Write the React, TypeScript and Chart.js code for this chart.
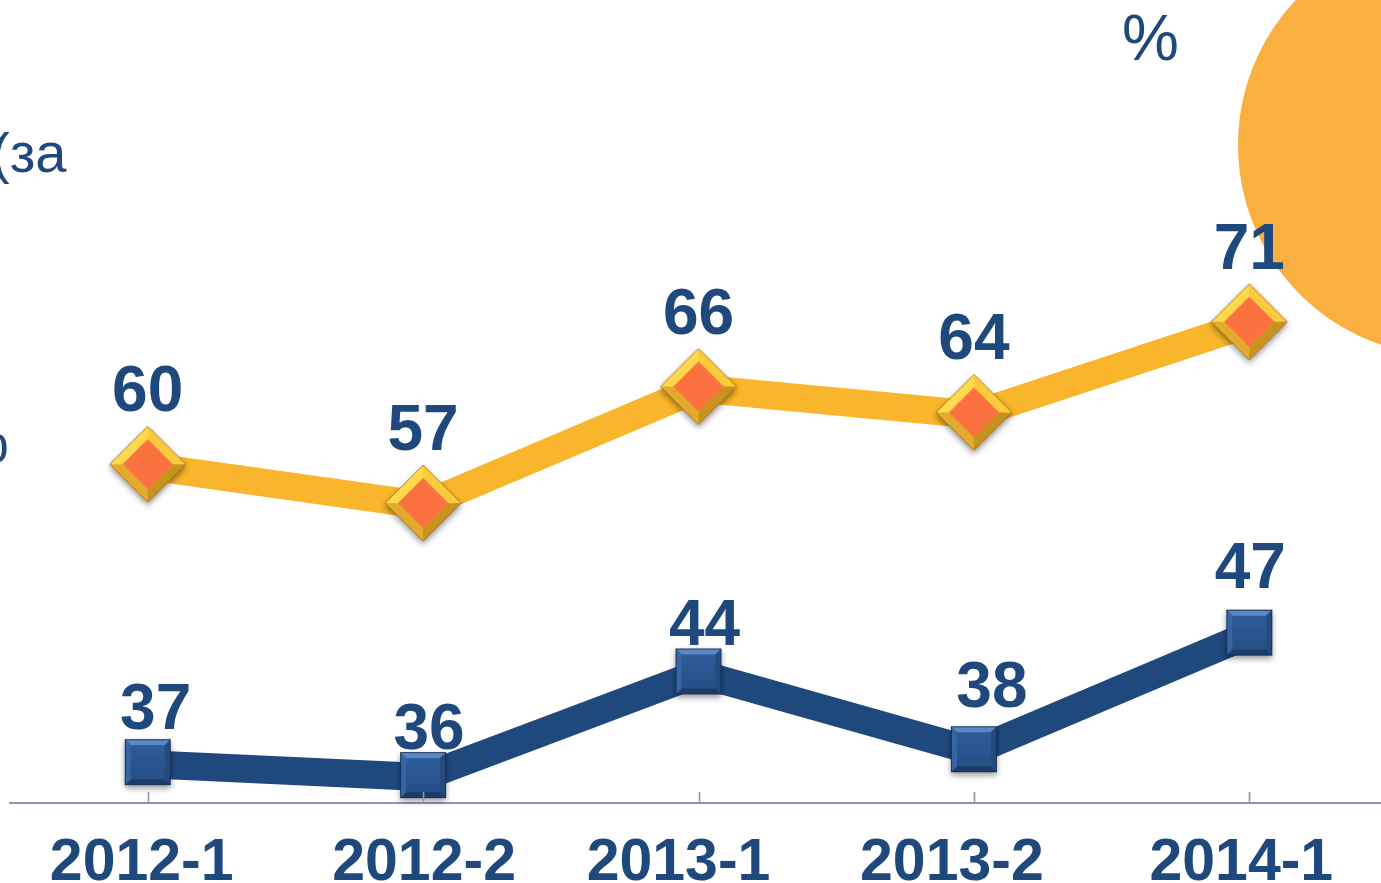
import React, { useEffect, useRef } from "react";
import { Chart, registerables } from "chart.js";

Chart.register(...registerables);

const categories = ["2012-1", "2012-2", "2013-1", "2013-2", "2014-1"];
const orangeValues = [60, 57, 66, 64, 71];
const blueValues = [37, 36, 44, 38, 47];

const TEXT_BLUE = "#1F497D";
const LINE_ORANGE = "#F9B52B";
const LINE_BLUE = "#1F497D";
const AXIS_COLOR = "#8C97AE";
const FONT = "'Liberation Sans', Arial, sans-serif";

// label nudges (style only): [dx, dy above point]
const orangeLabelOffsets = [[0, 55], [0, 55], [0, 55], [0, 55], [0, 55]];
const blueLabelOffsets = [[8, 35], [6, 28], [6, 28], [18, 44], [1, 47]];
// category label horizontal nudges (style only)
const categoryLabelNudges = [-6, 1, -20, -22, -8];

function makeDiamond(): HTMLCanvasElement {
  const s = 94;
  const c = document.createElement("canvas");
  c.width = s;
  c.height = s;
  const g = c.getContext("2d")!;
  const cx = s / 2, cy = s / 2 - 2;
  const R = 38, r = 25;
  g.save();
  g.shadowColor = "rgba(0,0,0,0.45)";
  g.shadowBlur = 6;
  g.shadowOffsetY = 3;
  g.beginPath();
  g.moveTo(cx, cy - R); g.lineTo(cx + R, cy); g.lineTo(cx, cy + R); g.lineTo(cx - R, cy); g.closePath();
  g.fillStyle = "#E6AE2C";
  g.fill();
  g.restore();
  const facet = (pts: number[][], col: string) => {
    g.beginPath();
    g.moveTo(pts[0][0], pts[0][1]);
    for (let i = 1; i < pts.length; i++) g.lineTo(pts[i][0], pts[i][1]);
    g.closePath();
    g.fillStyle = col;
    g.fill();
  };
  const oT = [cx, cy - R], oR = [cx + R, cy], oB = [cx, cy + R], oL = [cx - R, cy];
  const iT = [cx, cy - r], iR = [cx + r, cy], iB = [cx, cy + r], iL = [cx - r, cy];
  facet([oL, oT, iT, iL], "#FFD94C");
  facet([oT, oR, iR, iT], "#FCCB3C");
  facet([oR, oB, iB, iR], "#C8921E");
  facet([oB, oL, iL, iB], "#E3AA2C");
  g.beginPath();
  g.moveTo(iT[0], iT[1]); g.lineTo(iR[0], iR[1]); g.lineTo(iB[0], iB[1]); g.lineTo(iL[0], iL[1]); g.closePath();
  g.fillStyle = "#FB7140";
  g.fill();
  g.beginPath();
  g.moveTo(oT[0], oT[1]); g.lineTo(oR[0], oR[1]); g.lineTo(oB[0], oB[1]); g.lineTo(oL[0], oL[1]); g.closePath();
  g.strokeStyle = "rgba(150,105,20,0.7)";
  g.lineWidth = 1;
  g.stroke();
  return c;
}

function makeSquare(): HTMLCanvasElement {
  const s = 62;
  const c = document.createElement("canvas");
  c.width = s;
  c.height = s;
  const g = c.getContext("2d")!;
  const cx = s / 2, cy = s / 2 - 2;
  const R = 23, r = 17;
  g.save();
  g.shadowColor = "rgba(0,0,0,0.4)";
  g.shadowBlur = 6;
  g.shadowOffsetY = 3;
  g.fillStyle = "#2A5690";
  g.fillRect(cx - R, cy - R, 2 * R, 2 * R);
  g.restore();
  const facet = (pts: number[][], col: string) => {
    g.beginPath();
    g.moveTo(pts[0][0], pts[0][1]);
    for (let i = 1; i < pts.length; i++) g.lineTo(pts[i][0], pts[i][1]);
    g.closePath();
    g.fillStyle = col;
    g.fill();
  };
  const oTL = [cx - R, cy - R], oTR = [cx + R, cy - R], oBR = [cx + R, cy + R], oBL = [cx - R, cy + R];
  const iTL = [cx - r, cy - r], iTR = [cx + r, cy - r], iBR = [cx + r, cy + r], iBL = [cx - r, cy + r];
  facet([oTL, oTR, iTR, iTL], "#5A89C5");
  facet([oTR, oBR, iBR, iTR], "#234B7E");
  facet([oBR, oBL, iBL, iBR], "#1B3C68");
  facet([oBL, oTL, iTL, iBL], "#3566A3");
  const grad = g.createLinearGradient(0, cy - r, 0, cy + r);
  grad.addColorStop(0, "#2E5C98");
  grad.addColorStop(1, "#264F87");
  g.fillStyle = grad;
  g.fillRect(cx - r, cy - r, 2 * r, 2 * r);
  g.strokeStyle = "#16325A";
  g.lineWidth = 1;
  g.strokeRect(cx - R + 0.5, cy - R + 0.5, 2 * R - 1, 2 * R - 1);
  return c;
}

const decorPlugin = {
  id: "decor",
  beforeDraw(chart: any) {
    const ctx = chart.ctx;
    ctx.save();
    ctx.fillStyle = "#FFFFFF";
    ctx.fillRect(0, 0, chart.width, chart.height);
    ctx.beginPath();
    ctx.arc(1449, 145, 211, 0, Math.PI * 2);
    ctx.fillStyle = "#F9B041";
    ctx.fill();
    ctx.fillStyle = TEXT_BLUE;
    ctx.font = `56px ${FONT}`;
    ctx.textAlign = "left";
    ctx.textBaseline = "alphabetic";
    ctx.fillText("(за", -9, 172);
    ctx.font = `64px ${FONT}`;
    ctx.fillText("%", 1122, 60);
    ctx.textAlign = "right";
    ctx.fillText("%", 9, 462);
    ctx.restore();
  },
  afterDraw(chart: any) {
    const ctx = chart.ctx;
    const xs = chart.scales.x;
    const bottom = chart.chartArea.bottom;
    ctx.save();
    ctx.strokeStyle = AXIS_COLOR;
    ctx.lineWidth = 1.6;
    for (let i = 0; i < categories.length; i++) {
      const x = Math.round(xs.getPixelForValue(i)) + 0.5;
      ctx.beginPath();
      ctx.moveTo(x, bottom - 11);
      ctx.lineTo(x, bottom);
      ctx.stroke();
    }
    ctx.fillStyle = TEXT_BLUE;
    ctx.font = `bold 59px ${FONT}`;
    ctx.textAlign = "center";
    ctx.textBaseline = "alphabetic";
    const labels = chart.data.labels as string[];
    labels.forEach((lab, i) => {
      ctx.fillText(lab, xs.getPixelForValue(i) + categoryLabelNudges[i], bottom + 77);
    });
    ctx.restore();
  },
};

const labelPlugin = {
  id: "valueLabels",
  afterDatasetsDraw(chart: any) {
    const ctx = chart.ctx;
    ctx.save();
    ctx.fillStyle = TEXT_BLUE;
    ctx.font = `bold 64px ${FONT}`;
    ctx.textAlign = "center";
    ctx.textBaseline = "alphabetic";
    chart.data.datasets.forEach((ds: any, di: number) => {
      const meta = chart.getDatasetMeta(di);
      const offs = di === 0 ? orangeLabelOffsets : blueLabelOffsets;
      meta.data.forEach((pt: any, i: number) => {
        ctx.fillText(String(ds.data[i]), pt.x + offs[i][0], pt.y - offs[i][1]);
      });
    });
    ctx.restore();
  },
};

export default function App() {
  const ref = useRef<HTMLCanvasElement | null>(null);
  useEffect(() => {
    if (!ref.current) return;
    const diamond = makeDiamond();
    const square = makeSquare();
    const chart = new Chart(ref.current, {
      type: "line",
      data: {
        labels: categories,
        datasets: [
          {
            data: orangeValues,
            borderColor: LINE_ORANGE,
            borderWidth: 28,
            pointStyle: diamond as any,
            pointRadius: 30,
            tension: 0,
            clip: false as any,
            borderJoinStyle: "miter",
          },
          {
            data: blueValues,
            borderColor: LINE_BLUE,
            borderWidth: 28,
            pointStyle: square as any,
            pointRadius: 25,
            tension: 0,
            clip: false as any,
            borderJoinStyle: "miter",
          },
        ],
      },
      options: {
        responsive: false,
        animation: false,
        events: [],
        layout: { autoPadding: false, padding: { left: 10, right: 13, top: 0, bottom: 0 } },
        plugins: { legend: { display: false }, tooltip: { enabled: false } },
        scales: {
          x: {
            offset: true,
            grid: { display: false, drawTicks: false },
            border: { display: true, color: AXIS_COLOR, width: 2 },
            ticks: { display: false },
            afterFit: (scale: any) => {
              scale.height = 80;
            },
          },
          y: {
            display: false,
            min: 34,
            max: 96,
          },
        },
      },
      plugins: [decorPlugin, labelPlugin],
    });
    return () => chart.destroy();
  }, []);
  return (
    <div style={{ position: "absolute", left: 0, top: 0, width: 1381, height: 883, overflow: "hidden", background: "#fff" }}>
      <canvas ref={ref} width={1400} height={883} style={{ display: "block", width: 1400, height: 883 }} />
    </div>
  );
}
